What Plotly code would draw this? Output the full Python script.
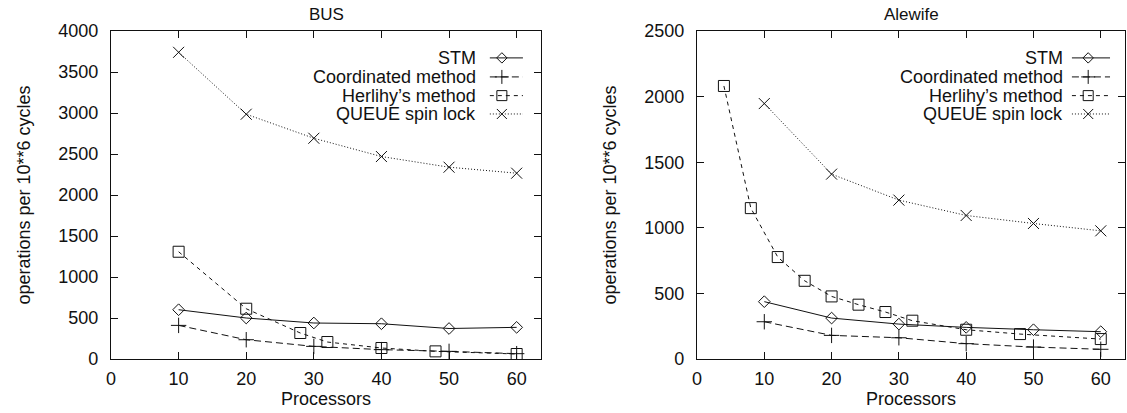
import plotly.graph_objects as go

# ---------------- data ----------------
series_names = ["STM", "Coordinated method", "Herlihy\u2019s method", "QUEUE spin lock"]

# BUS panel
bus_x = [10, 20, 30, 40, 50, 60]
bus_stm = [601, 500, 439, 430, 372, 386]
bus_coord = [410, 235, 154, 114, 93, 65]
bus_herl_x = [10, 20, 28, 32, 40, 48, 60]
bus_herl = [1308, 613, 317, 207, 134, 93, 61]
bus_queue = [3740, 2985, 2692, 2469, 2339, 2266]

# Alewife panel
ale_x = [10, 20, 30, 40, 50, 60]
ale_stm = [437, 312, 266, 241, 223, 208]
ale_coord = [284, 180, 162, 117, 91, 74]
ale_herl_x = [4, 8, 12, 16, 20, 24, 28, 32, 40, 48, 60]
ale_herl = [2081, 1150, 777, 596, 477, 414, 358, 292, 223, 190, 152]
ale_queue = [1947, 1409, 1211, 1094, 1033, 977]

panel_titles = ["BUS", "Alewife"]
x_title = "Processors"
y_title = "operations per 10**6 cycles"

# ---------------- styles ----------------
FONT = "Liberation Sans, Arial, Helvetica, sans-serif"
FS = 18
INK = "#111111"
styles = [
    dict(dash="solid", symbol="diamond-open", size=9),
    dict(dash="7px,4px", symbol="cross-thin-open", size=11),
    dict(dash="4px,4px", symbol="square-open", size=11),
    dict(dash="1px,2px", symbol="x-thin-open", size=11),
]

W, H = 1127, 413
left_dom = [111 / W, 541 / W]
right_dom = [697 / W, 1125 / W]
y_dom = [(H - 359) / H, (H - 31) / H]

fig = go.Figure()

def add_series(xs, ys, st, xa, ya):
    fig.add_trace(go.Scatter(
        x=xs, y=ys, mode="lines+markers", xaxis=xa, yaxis=ya,
        line=dict(color=INK, width=1, dash=st["dash"]),
        marker=dict(symbol=st["symbol"], size=st["size"], color=INK,
                    line=dict(color=INK, width=1)),
        showlegend=False, hoverinfo="x+y"))

bus_sets = [(bus_x, bus_stm), (bus_x, bus_coord), (bus_herl_x, bus_herl), (bus_x, bus_queue)]
ale_sets = [(ale_x, ale_stm), (ale_x, ale_coord), (ale_herl_x, ale_herl), (ale_x, ale_queue)]

for (xs, ys), st in zip(bus_sets, styles):
    add_series(xs, ys, st, "x", "y")
for (xs, ys), st in zip(ale_sets, styles):
    add_series(xs, ys, st, "x2", "y2")

# ---------------- gnuplot-style keys (text, then sample) ----------------
key_rows = [0.918, 0.860, 0.803, 0.747]
keys = [
    dict(xa="x3", ya="y3", dref="x", yref="y", text_right=0.853, s0=0.881, s1=0.958, sm=0.909),
    dict(xa="x4", ya="y4", dref="x2", yref="y2", text_right=0.860, s0=0.876, s1=0.965, sm=0.914),
]
annotations = []
for k in keys:
    for name, st, ry in zip(series_names, styles, key_rows):
        fig.add_trace(go.Scatter(
            x=[k["s0"], k["s1"]], y=[ry, ry], mode="lines", xaxis=k["xa"], yaxis=k["ya"],
            line=dict(color=INK, width=1, dash=st["dash"]), showlegend=False, hoverinfo="skip"))
        fig.add_trace(go.Scatter(
            x=[k["sm"]], y=[ry], mode="markers", xaxis=k["xa"], yaxis=k["ya"],
            marker=dict(symbol=st["symbol"], size=st["size"] - 1, color=INK,
                        line=dict(color=INK, width=1)),
            showlegend=False, hoverinfo="skip"))
        annotations.append(dict(
            text=name, xref=k["dref"] + " domain", yref=k["yref"] + " domain",
            x=k["text_right"], y=ry, xanchor="right", yanchor="middle", showarrow=False,
            font=dict(family=FONT, size=FS, color=INK)))

# titles
for dom, t in zip([left_dom, right_dom], panel_titles):
    annotations.append(dict(text=t, xref="paper", yref="paper", x=(dom[0] + dom[1]) / 2,
                            y=(H - 14) / H, xanchor="center", yanchor="middle", showarrow=False,
                            font=dict(family=FONT, size=17, color=INK)))

axis_common = dict(showgrid=False, zeroline=False, showline=True, linecolor=INK, linewidth=1.2,
                   mirror="ticks", ticks="inside", ticklen=7, tickcolor=INK, tickwidth=1,
                   automargin=False, tickfont=dict(family=FONT, size=FS, color=INK))

xcommon = dict(axis_common, range=[0, 63.6], dtick=10, tick0=0, ticklabelstandoff=3,
               title=dict(text=x_title, font=dict(family=FONT, size=FS, color=INK), standoff=0))
ycommon = dict(axis_common, ticklabelstandoff=8,
               title=dict(text=y_title, font=dict(family=FONT, size=FS, color=INK), standoff=22))

hidden = dict(visible=False, range=[0, 1], fixedrange=True, automargin=False)

fig.update_layout(
    width=W, height=H,
    margin=dict(l=0, r=0, t=0, b=0, autoexpand=False),
    paper_bgcolor="white", plot_bgcolor="rgba(0,0,0,0)",
    font=dict(family=FONT, color=INK),
    xaxis=dict(xcommon, domain=left_dom, anchor="y"),
    yaxis=dict(ycommon, domain=y_dom, anchor="x", range=[0, 4000], dtick=500),
    xaxis2=dict(xcommon, domain=right_dom, anchor="y2"),
    yaxis2=dict(ycommon, domain=y_dom, anchor="x2", range=[0, 2500], dtick=500),
    xaxis3=dict(hidden, domain=left_dom, anchor="y3"),
    yaxis3=dict(hidden, domain=y_dom, anchor="x3"),
    xaxis4=dict(hidden, domain=right_dom, anchor="y4"),
    yaxis4=dict(hidden, domain=y_dom, anchor="x4"),
    annotations=annotations,
    showlegend=False,
)

fig.write_html("out.html", config={"displayModeBar": False},
               post_script="document.body.style.margin='0';document.body.style.padding='0';")
